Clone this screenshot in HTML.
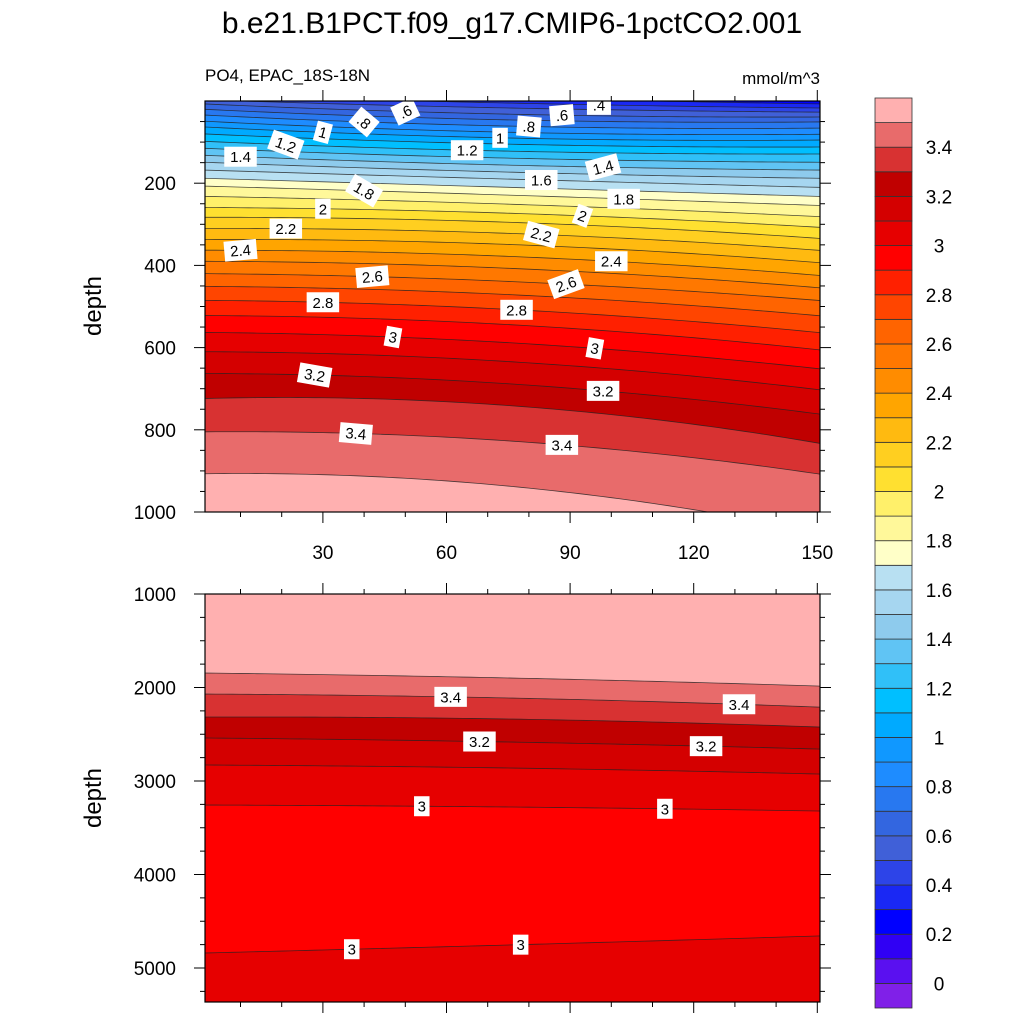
<!DOCTYPE html>
<html><head><meta charset="utf-8">
<style>
html,body{margin:0;padding:0;background:#fff;}
svg{display:block;font-family:"Liberation Sans",sans-serif;}
</style></head>
<body>
<svg id="chart" width="1024" height="1024" viewBox="0 0 1024 1024" xmlns="http://www.w3.org/2000/svg">
<text x="512" y="33" font-size="30" text-anchor="middle">b.e21.B1PCT.f09_g17.CMIP6-1pctCO2.001</text>
<text x="205" y="81" font-size="17">PO4, EPAC_18S-18N</text>
<text x="820" y="84" font-size="17" text-anchor="end">mmol/m^3</text>
<text transform="translate(101,306) rotate(-90)" font-size="24" text-anchor="middle">depth</text>
<text transform="translate(101,798) rotate(-90)" font-size="24" text-anchor="middle">depth</text>
<defs>
<clipPath id="clipTop"><rect x="205" y="101" width="615" height="411"/></clipPath>
<clipPath id="clipBot"><rect x="205" y="594" width="615" height="408"/></clipPath>
</defs>
<g id="topPanel"></g>
<g id="botPanel"></g>
<g id="colorbar"></g>
</svg>
<script>
// ---- data ----
const xCols = [1, 75, 150];
const topLevels = [0.2,0.3,0.4,0.5,0.6,0.7,0.8,0.9,1.0,1.1,1.2,1.3,1.4,1.5,1.6,1.7,1.8,1.9,2.0,2.1,2.2,2.3,2.4,2.5,2.6,2.7,2.8,2.9,3.0,3.1,3.2,3.3,3.4,3.5];
const topDepthLeft = [-40,-30,-15,-3,7,20,34,49,63,80,98,115,132,149,168,188,207,232,259,283,310,337,363,390,420,451,485,522,563,610,663,724,805,907];
const topDepthMid = [-20,-8,5,17,32,46,61,76,90,105,122,139,156,173,190,210,229,251,273,295,322,349,378,407,439,471,507,544,588,634,688,741,827,937];
const topDepthRight = [-2,7,17,27,39,51,66,81,95,112,129,149,168,188,210,232,254,281,307,334,363,393,424,454,485,522,563,605,651,702,761,832,907,1049];
const botLevels = [3.0,3.1,3.2,3.3,3.4,3.5];
const botDepthLeft = [3257,2829,2540,2316,2070,1845];
const botDepthMid = [3278,2861,2583,2337,2112,1898];
const botDepthRight = [3321,2925,2658,2422,2209,1984];
const deepLevel = 3.0;
const deepDepth = [4840,4754,4658];
const cbLabels = ["0","0.2","0.4","0.6","0.8","1","1.2","1.4","1.6","1.8","2","2.2","2.4","2.6","2.8","3","3.2","3.4"];
const cbLabelValues = [0,0.2,0.4,0.6,0.8,1,1.2,1.4,1.6,1.8,2,2.2,2.4,2.6,2.8,3,3.2,3.4];
const xTickLabels = [30,60,90,120,150];
const topYTicks = [200,400,600,800,1000];
const botYTicks = [1000,2000,3000,4000,5000];
const topLabelX = [97,50,40,30,21,10,65,73,80,88,83,98,40,103,30,93,21,83,10,100,42,89,30,77,47,96,28,98,38,88];
const topLabelLev = [0.4,0.6,0.8,1,1.2,1.4,1.2,1,0.8,0.6,1.6,1.4,1.8,1.8,2,2,2.2,2.2,2.4,2.4,2.6,2.6,2.8,2.8,3,3,3.2,3.2,3.4,3.4];
const topLabelText = [".4",".6",".8","1","1.2","1.4","1.2","1",".8",".6","1.6","1.4","1.8","1.8","2","2","2.2","2.2","2.4","2.4","2.6","2.6","2.8","2.8","3","3","3.2","3.2","3.4","3.4"];
const topLabelRot = [0,-25,40,15,20,0,0,0,5,-5,0,-15,30,0,0,20,0,15,-5,0,-5,-20,0,0,10,10,10,0,5,0];
const botLabelX = [61,131,68,123,54,113];
const botLabelLev = [3.4,3.4,3.2,3.2,3.0,3.0];
const botLabelText = ["3.4","3.4","3.2","3.2","3","3"];
const deepLabelX = [37,78];
const bandColors = ["#8020E8","#5A10F0","#3000F4","#0000FF","#1A28F4","#2D44E8","#4060D8","#3366E0","#2878F0","#1E8CFF","#1098FF","#00AAFF","#00BFFF","#30C0F8","#60C4F4","#8ECBED","#A6D6F0","#B8E0F2","#FFFFC8","#FFF89A","#FFF06A","#FFE030","#FFCF20","#FFBA10","#FFA500","#FF8C00","#FF7800","#FF6400","#FF4500","#FF2000","#FF0000","#E60000","#D40000","#C00000","#D83232","#E86B6B","#FFB0B0"];

// ---- scales ----
const NS = "http://www.w3.org/2000/svg";
const X0 = 205, X1 = 820;
function xs(v){ return 199.3 + 4.12 * v; }
function yTop(d){ return 101 + d * 0.411; }
function yBot(d){ return 594 + (d - 1000) * 0.0935; }
function bandIndex(lev){ return Math.round(lev * 10) + 1; }
function interp(x, arr){
  // quadratic (Lagrange) through the three columns for smooth lines
  const [a, b, c] = xCols;
  return arr[0]*(x-b)*(x-c)/((a-b)*(a-c)) + arr[1]*(x-a)*(x-c)/((b-a)*(b-c)) + arr[2]*(x-a)*(x-b)/((c-a)*(c-b));
}
function mk(tag, attrs, parent){
  const e = document.createElementNS(NS, tag);
  for (const k in attrs) e.setAttribute(k, attrs[k]);
  parent.appendChild(e); return e;
}
function linePts(arr, ys){
  const pts = [];
  for (let x = 0; x <= 152; x += 2){ pts.push([xs(x), ys(interp(x, arr))]); }
  return pts;
}
function addLabel(parent, x, y, text, rot){
  const g = mk("g", {transform: `translate(${x},${y}) rotate(${rot})`}, parent);
  
  
  const w = text.length * 8.5 + 7;
  mk("rect", {x: -w/2, y: -10, width: w, height: 20, fill: "#fff"}, g);
  const t = mk("text", {x: 0, y: 5.5, "font-size": 15, "text-anchor": "middle"}, g);
  t.textContent = text;
}

// ---- top panel ----
const topG = document.getElementById("topPanel");
const topFill = mk("g", {"clip-path": "url(#clipTop)"}, topG);
const r0 = mk("rect", {x: X0, y: 101, width: X1-X0, height: 411, fill: bandColors[bandIndex(topLevels[0]) - 1]}, topFill);


const topCols = topLevels.map((l, i) => [topDepthLeft[i], topDepthMid[i], topDepthRight[i]]);
topLevels.forEach((lev, i) => {
  const pts = linePts(topCols[i], yTop);
  const poly = pts.map(p => p.join(",")).join(" ") + ` ${xs(152)},520 ${xs(0)},520`;
  const p = mk("polygon", {points: poly, fill: bandColors[bandIndex(lev)]}, topFill);
  
  
});
topLevels.forEach((lev, i) => {
  const pts = linePts(topCols[i], yTop);
  const pl = mk("polyline", {points: pts.map(p => p.join(",")).join(" "), fill: "none", stroke: "#222", "stroke-width": 0.8, opacity: 0.8}, topFill);
  
  
});
topLabelX.forEach((x, i) => {
  const li = topLevels.findIndex(l => Math.abs(l - topLabelLev[i]) < 1e-6);
  addLabel(topG, xs(x), yTop(interp(x, topCols[li])), topLabelText[i], topLabelRot[i]);
});

// ---- bottom panel ----
const botG = document.getElementById("botPanel");
const botFill = mk("g", {"clip-path": "url(#clipBot)"}, botG);
const rb = mk("rect", {x: X0, y: 594, width: X1-X0, height: 408, fill: bandColors[bandIndex(botLevels[botLevels.length-1])]}, botFill);


const botCols = botLevels.map((l, i) => [botDepthLeft[i], botDepthMid[i], botDepthRight[i]]);
for (let i = botLevels.length - 1; i >= 0; i--){
  const pts = linePts(botCols[i], yBot);
  const poly = pts.map(p => p.join(",")).join(" ") + ` ${xs(152)},1010 ${xs(0)},1010`;
  const p = mk("polygon", {points: poly, fill: bandColors[bandIndex(botLevels[i]) - 1]}, botFill);
  
  
}
{
  const pts = linePts(deepDepth, yBot);
  const poly = pts.map(p => p.join(",")).join(" ") + ` ${xs(152)},1010 ${xs(0)},1010`;
  const p = mk("polygon", {points: poly, fill: bandColors[bandIndex(deepLevel)]}, botFill);
  
  
}
botCols.concat([deepDepth]).forEach(arr => {
  const pts = linePts(arr, yBot);
  const pl = mk("polyline", {points: pts.map(p => p.join(",")).join(" "), fill: "none", stroke: "#222", "stroke-width": 0.8, opacity: 0.8}, botFill);
  
  
});
botLabelX.forEach((x, i) => {
  const li = botLevels.findIndex(l => Math.abs(l - botLabelLev[i]) < 1e-6);
  addLabel(botG, xs(x), yBot(interp(x, botCols[li])), botLabelText[i], 0);
});
deepLabelX.forEach(x => { addLabel(botG, xs(x), yBot(interp(x, deepDepth)), "3", 0); });

// ---- axes ----
function frame(parent, y0, y1){
  const r = mk("rect", {x: X0, y: y0, width: X1-X0, height: y1-y0, fill: "none", stroke: "#000", "stroke-width": 1.2}, parent);
  
  
}
function xTicks(parent, yEdge, dir){
  for (let v = 10; v <= 150; v += 10){
    const major = v % 30 === 0, L = major ? 11 : 5;
    const t = mk("line", {x1: xs(v), x2: xs(v), y1: yEdge, y2: yEdge + dir*L, stroke: "#000", "stroke-width": 1}, parent);
    
    
  }
}
function yTicks(parent, from, to, minorStep, ys){
  for (let d = from; d <= to; d += minorStep){
    const major = d % 1000 === 0 || (to <= 1000 && d % 200 === 0);
    const L = major ? 11 : 5;
    const y = ys(d);
    const a = mk("line", {x1: X0, x2: X0 - L, y1: y, y2: y, stroke: "#000", "stroke-width": 1}, parent);
    
    
    const b = mk("line", {x1: X1, x2: X1 + L, y1: y, y2: y, stroke: "#000", "stroke-width": 1}, parent);
    
    
  }
}
frame(topG, 101, 512);
xTicks(topG, 101, -1); xTicks(topG, 512, 1);
yTicks(topG, 50, 1000, 50, yTop);
xTickLabels.forEach(v => {
  const t = mk("text", {x: xs(v), y: 559, "font-size": 19, "text-anchor": "middle"}, topG);
  
  
  t.textContent = v;
});
topYTicks.forEach(d => {
  const t = mk("text", {x: 176, y: yTop(d) + 7, "font-size": 19, "text-anchor": "end"}, topG);
  
  
  t.textContent = d;
});
frame(botG, 594, 1002);
xTicks(botG, 594, -1); xTicks(botG, 1002, 1);
yTicks(botG, 1000, 5250, 250, yBot);
botYTicks.forEach(d => {
  const t = mk("text", {x: 176, y: yBot(d) + 7, "font-size": 19, "text-anchor": "end"}, botG);
  
  
  t.textContent = d;
});

// ---- colorbar ----
const cb = document.getElementById("colorbar");
const cbTop = 98, cbBot = 1008, cbX = 875, cbW = 37;
const boxH = (cbBot - cbTop) / bandColors.length;
bandColors.forEach((c, i) => {
  const y = cbBot - (i + 1) * boxH;
  const r = mk("rect", {x: cbX, y: y, width: cbW, height: boxH, fill: c, stroke: "#333", "stroke-width": 0.8}, cb);
  
  
});
cbLabels.forEach((s, i) => {
  const y = cbBot - (Math.round(cbLabelValues[i] * 10) + 1) * boxH;
  const t = mk("text", {x: 939, y: y + 7, "font-size": 19, "text-anchor": "middle"}, cb);
  
  
  t.textContent = s;
});
</script>
</body></html>
